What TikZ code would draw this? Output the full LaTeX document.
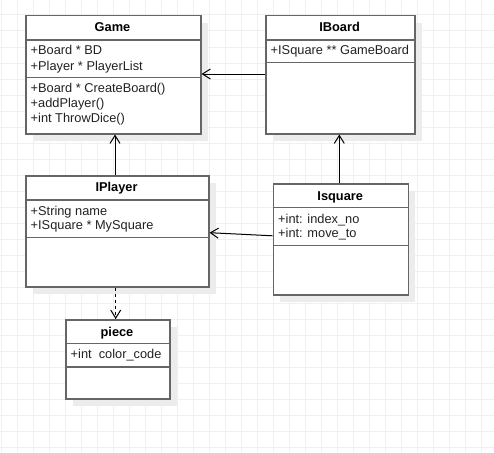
\documentclass[tikz,border=0pt]{standalone}
\usepackage{fontspec}
\setmainfont{Liberation Sans}
\usetikzlibrary{arrows.meta,shadows}
\definecolor{gridc}{HTML}{F0F0F0}
\definecolor{shadc}{HTML}{ECECEC}
\definecolor{boxc}{HTML}{666666}
\definecolor{txtc}{HTML}{222222}
\tikzset{
  umlbox/.style={draw=boxc, line width=1.5pt, fill=white, rectangle, inner sep=0pt, anchor=north west,
    general shadow={fill=shadc, shadow xshift=7pt, shadow yshift=-7pt}},
  umlline/.style={draw=boxc, line width=1.5pt},
  txt/.style={anchor=base west, inner sep=0pt, text=txtc, font=\fontsize{12.8}{15}\selectfont},
  ttl/.style={anchor=base, inner sep=0pt, text=black, font=\fontsize{12.8}{15}\selectfont\bfseries},
  assoc/.style={draw=black, line width=1pt, -{Straight Barb[length=8pt,width=10pt]}},
  dep/.style={assoc, dash pattern=on 3pt off 3pt},
}
\begin{document}
\begin{tikzpicture}[x=1pt,y=-1pt]
\useasboundingbox (0,0) rectangle (494,452);
\fill[white] (0,0) rectangle (494,452);
\foreach \i in {0,...,30} \draw[gridc, line width=1pt] (1+16*\i,0) -- (1+16*\i,452);
\foreach \j in {0,...,27} \draw[gridc, line width=1pt] (0,15+16*\j) -- (494,15+16*\j);

% Game
\node[umlbox, minimum width=175pt, minimum height=118pt] (game) at (25,15) {};
\draw[umlline] (game.west |- 0,40) -- (game.east |- 0,40);
\draw[umlline] (game.west |- 0,77.7) -- (game.east |- 0,77.7);
\node[ttl] (gamet) at (112.5,31.7) {Game};
\node[txt] (gamea1) at (30.5,55) {+Board * BD};
\node[txt] (gamea2) at (30.5,70) {+Player * PlayerList};
\node[txt] (gamem1) at (30.5,92.7) {+Board * CreateBoard()};
\node[txt] (gamem2) at (30.5,107.5) {+addPlayer()};
\node[txt] (gamem3) at (30.5,122.3) {+int ThrowDice()};

% IBoard
\node[umlbox, minimum width=149.3pt, minimum height=118pt] (iboard) at (265,15) {};
\draw[umlline] (iboard.west |- 0,40) -- (iboard.east |- 0,40);
\draw[umlline] (iboard.west |- 0,62.3) -- (iboard.east |- 0,62.3);
\node[ttl] (iboardt) at (339.6,31.7) {IBoard};
\node[txt] (iboarda1) at (270.5,55) {+ISquare ** GameBoard};

% IPlayer
\node[umlbox, minimum width=183pt, minimum height=111pt] (iplayer) at (25,175) {};
\draw[umlline] (iplayer.west |- 0,200) -- (iplayer.east |- 0,200);
\draw[umlline] (iplayer.west |- 0,237.7) -- (iplayer.east |- 0,237.7);
\node[ttl] (iplayert) at (116.5,191.7) {IPlayer};
\node[txt] (iplayera1) at (30.5,215) {+String name};
\node[txt] (iplayera2) at (30.5,229.8) {+ISquare * MySquare};

% Isquare
\node[umlbox, minimum width=135pt, minimum height=110.7pt] (isquare) at (272.7,183.3) {};
\draw[umlline] (isquare.west |- 0,207.7) -- (isquare.east |- 0,207.7);
\draw[umlline] (isquare.west |- 0,245.7) -- (isquare.east |- 0,245.7);
\node[ttl] (isquaret) at (340.2,200) {Isquare};
\node[txt] (isquarea1) at (278,223.3) {+int: index\_no};
\node[txt] (isquarea2) at (278,237.9) {+int: move\_to};

% piece
\node[umlbox, minimum width=104pt, minimum height=79.3pt] (piece) at (65,319) {};
\draw[umlline] (piece.west |- 0,343.3) -- (piece.east |- 0,343.3);
\draw[umlline] (piece.west |- 0,367) -- (piece.east |- 0,367);
\node[ttl] (piecet) at (117,336) {piece};
\node[txt] (piecea1) at (70.5,358.7) {+int\ \ color\_code};

% connectors
\draw[assoc] (iboard.west |- 0,74) -- (game.east |- 0,74);
\draw[assoc] (115,0 |- iplayer.north) -- (115,0 |- game.south);
\draw[assoc] (339.3,0 |- isquare.north) -- (339.3,0 |- iboard.south);
\draw[assoc] (isquare.west |- 0,235.8) -- (iplayer.east |- 0,232.7);
\draw[dep] (115.7,0 |- iplayer.south) -- (115.7,0 |- piece.north);
\end{tikzpicture}
\end{document}
